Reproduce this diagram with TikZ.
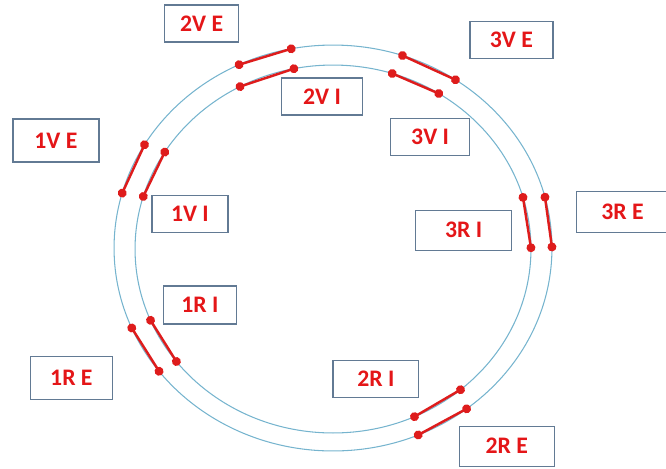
\documentclass[tikz,border=0pt]{standalone}
\usepackage{fontspec}
\setmainfont{Carlito}
\usepackage{xcolor}
\usepackage{tikz}
\usetikzlibrary{arrows.meta,positioning,calc}
\definecolor{lblred}{RGB}{228,22,24}
\definecolor{segred}{RGB}{222,28,28}
\definecolor{boxline}{RGB}{98,122,148}
\definecolor{ringblue}{RGB}{118,180,206}

\begin{document}
\begin{tikzpicture}[x=0.02cm, y=0.02cm,
  lbl/.style={draw=boxline, line width=0.8pt, minimum height=0.74cm, inner sep=0pt, align=center, text=lblred, font=\fontsize{13.5}{15}\selectfont\bfseries},
  ring/.style={draw=ringblue, line width=0.6pt},
  seg/.style={draw=segred, line width=1.4pt, {Circle[length=5pt]}-{Circle[length=5pt]}, shorten <=-2.5pt, shorten >=-2.5pt}
]
\useasboundingbox (0,0) rectangle (666,-468);

% the two rings
\coordinate (co) at (333,-248);
\coordinate (ci) at (333,-249);
\draw[ring] (co) ellipse [x radius=4.38cm, y radius=4.06cm];
\draw[ring] (ci) ellipse [x radius=3.96cm, y radius=3.68cm];

% labels
\node[lbl, minimum width=1.48cm] (v2e) at (201.7,-23.3) {2V E};
\node[lbl, minimum width=1.66cm] (v3e) at (511.4,-40.2) {3V E};
\node[lbl, minimum width=1.62cm] (v2i) at (322,-96.5) {2V I};
\node[lbl, minimum width=1.58cm] (v3i) at (430.1,-136.9) {3V I};
\node[lbl, minimum width=1.72cm, minimum height=0.86cm] (v1e) at (55.9,-140.4) {1V E};
\node[lbl, minimum width=1.52cm] (v1i) at (189.9,-214) {1V I};
\node[lbl, minimum width=1.92cm, minimum height=0.8cm] (r3i) at (463.7,-230.2) {3R I};
\node[lbl, minimum width=1.84cm, minimum height=0.82cm] (r3e) at (622.5,-212.2) {3R E};
\node[lbl, minimum width=1.46cm, minimum height=0.76cm] (r1i) at (199.9,-304.9) {1R I};
\node[lbl, minimum width=1.64cm, minimum height=0.86cm] (r1e) at (71.4,-378) {1R E};
\node[lbl, minimum width=1.72cm] (r2i) at (375.8,-378.7) {2R I};
\node[lbl, minimum width=1.9cm, minimum height=0.8cm] (r2e) at (506.8,-446.2) {2R E};

% end points on the outer ring
\coordinate (v2ea) at ([shift={(115.4:4.38cm and 4.06cm)}]co);
\coordinate (v2eb) at ([shift={(101:4.38cm and 4.06cm)}]co);
\coordinate (v3ea) at ([shift={(71.5:4.38cm and 4.06cm)}]co);
\coordinate (v3eb) at ([shift={(56:4.38cm and 4.06cm)}]co);
\coordinate (r3ea) at ([shift={(14.5:4.38cm and 4.06cm)}]co);
\coordinate (r3eb) at ([shift={(0.3:4.38cm and 4.06cm)}]co);
\coordinate (r2ea) at ([shift={(-52.4:4.38cm and 4.06cm)}]co);
\coordinate (r2eb) at ([shift={(-67.1:4.38cm and 4.06cm)}]co);
\coordinate (r1ea) at ([shift={(203.2:4.38cm and 4.06cm)}]co);
\coordinate (r1eb) at ([shift={(217.4:4.38cm and 4.06cm)}]co);
\coordinate (v1ea) at ([shift={(149.4:4.38cm and 4.06cm)}]co);
\coordinate (v1eb) at ([shift={(164.3:4.38cm and 4.06cm)}]co);

% end points on the inner ring
\coordinate (v2ia) at ([shift={(118:3.96cm and 3.68cm)}]ci);
\coordinate (v2ib) at ([shift={(101.4:3.96cm and 3.68cm)}]ci);
\coordinate (v3ia) at ([shift={(72.6:3.96cm and 3.68cm)}]ci);
\coordinate (v3ib) at ([shift={(57.7:3.96cm and 3.68cm)}]ci);
\coordinate (r3ia) at ([shift={(16.3:3.96cm and 3.68cm)}]ci);
\coordinate (r3ib) at ([shift={(0.4:3.96cm and 3.68cm)}]ci);
\coordinate (r2ia) at ([shift={(-49.9:3.96cm and 3.68cm)}]ci);
\coordinate (r2ib) at ([shift={(-65.7:3.96cm and 3.68cm)}]ci);
\coordinate (r1ia) at ([shift={(202.8:3.96cm and 3.68cm)}]ci);
\coordinate (r1ib) at ([shift={(217.7:3.96cm and 3.68cm)}]ci);
\coordinate (v1ia) at ([shift={(148.2:3.96cm and 3.68cm)}]ci);
\coordinate (v1ib) at ([shift={(163.4:3.96cm and 3.68cm)}]ci);

\draw[seg] (v2ea) -- (v2eb);
\draw[seg] (v3ea) -- (v3eb);
\draw[seg] (r3ea) -- (r3eb);
\draw[seg] (r2ea) -- (r2eb);
\draw[seg] (r1ea) -- (r1eb);
\draw[seg] (v1ea) -- (v1eb);
\draw[seg] (v2ia) -- (v2ib);
\draw[seg] (v3ia) -- (v3ib);
\draw[seg] (r3ia) -- (r3ib);
\draw[seg] (r2ia) -- (r2ib);
\draw[seg] (r1ia) -- (r1ib);
\draw[seg] (v1ia) -- (v1ib);
\end{tikzpicture}
\end{document}
